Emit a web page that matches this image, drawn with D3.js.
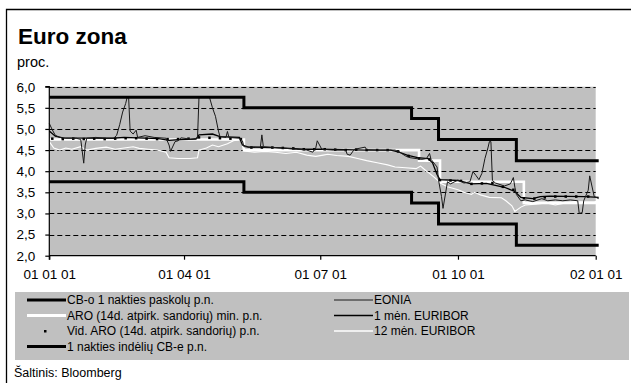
<!DOCTYPE html>
<html>
<head>
<meta charset="utf-8">
<script src="https://cdn.jsdelivr.net/npm/d3@7"></script>
<style>
  html, body { margin: 0; padding: 0; background: #fff; }
  svg { display: block; font-family: "Liberation Sans", Arial, sans-serif; }
</style>
</head>
<body>
<svg id="chart" width="631" height="383"></svg>
<script>
// ECB policy corridor (step values, effective dates)
const corridorDates = ["2001-01-01", "2001-05-11", "2001-08-31", "2001-09-18", "2001-11-09", "2002-01-03"];
const lendingRate   = [5.75, 5.50, 5.25, 4.75, 4.25, 4.25];
const depositRate   = [3.75, 3.50, 3.25, 2.75, 2.25, 2.25];

// Main refinancing operations, minimum bid rate
const aroDates  = ["2001-01-01", "2001-05-11", "2001-09-05", "2001-09-19", "2001-11-14", "2002-01-03"];
const aroMinRate = [4.75, 4.50, 4.25, 3.75, 3.25, 3.25];

// Weekly average allotment rate of main refinancing operations
const aroAvg = [
  ["2001-01-03", 4.77], ["2001-01-10", 4.76], ["2001-01-17", 4.77], ["2001-01-24", 4.76],
  ["2001-01-31", 4.77], ["2001-02-07", 4.76], ["2001-02-14", 4.77], ["2001-02-21", 4.78],
  ["2001-02-28", 4.78], ["2001-03-07", 4.77], ["2001-03-14", 4.76], ["2001-03-21", 4.76],
  ["2001-03-28", 4.76], ["2001-04-04", 4.77], ["2001-04-11", 4.80], ["2001-04-18", 4.79],
  ["2001-04-25", 4.78], ["2001-05-02", 4.77], ["2001-05-09", 4.76], ["2001-05-16", 4.56],
  ["2001-05-23", 4.56], ["2001-05-30", 4.56], ["2001-06-06", 4.55], ["2001-06-13", 4.54],
  ["2001-06-20", 4.52], ["2001-06-27", 4.52], ["2001-07-04", 4.52], ["2001-07-11", 4.51],
  ["2001-07-18", 4.50], ["2001-07-25", 4.51], ["2001-08-01", 4.50], ["2001-08-08", 4.50],
  ["2001-08-15", 4.50], ["2001-08-22", 4.47], ["2001-08-29", 4.36], ["2001-09-05", 4.30],
  ["2001-09-12", 4.28], ["2001-09-19", 3.79], ["2001-09-26", 3.78], ["2001-10-03", 3.77],
  ["2001-10-10", 3.70], ["2001-10-17", 3.71], ["2001-10-24", 3.72], ["2001-10-31", 3.63],
  ["2001-11-07", 3.56], ["2001-11-14", 3.36], ["2001-11-21", 3.35], ["2001-11-28", 3.38],
  ["2001-12-05", 3.40], ["2001-12-12", 3.40], ["2001-12-19", 3.40], ["2001-12-27", 3.40]
];

// EONIA
const eonia = [
  ["2001-01-01", 5.13], ["2001-01-03", 4.98], ["2001-01-05", 4.85], ["2001-01-08", 4.80],
  ["2001-01-12", 4.78], ["2001-01-19", 4.78], ["2001-01-22", 4.75], ["2001-01-24", 4.19],
  ["2001-01-25", 4.62], ["2001-01-26", 4.78], ["2001-02-01", 4.80], ["2001-02-08", 4.78],
  ["2001-02-13", 4.78], ["2001-02-15", 4.85], ["2001-02-17", 5.10], ["2001-02-19", 5.40],
  ["2001-02-21", 5.60], ["2001-02-22", 5.75], ["2001-02-23", 5.75], ["2001-02-24", 4.95],
  ["2001-02-26", 4.88], ["2001-02-28", 4.97], ["2001-03-01", 4.80], ["2001-03-06", 4.84],
  ["2001-03-12", 4.80], ["2001-03-20", 4.78], ["2001-03-22", 4.62], ["2001-03-23", 4.47],
  ["2001-03-26", 4.70], ["2001-03-28", 4.72], ["2001-03-30", 4.79], ["2001-04-05", 4.76],
  ["2001-04-10", 4.78], ["2001-04-11", 5.75], ["2001-04-18", 5.75], ["2001-04-20", 5.50],
  ["2001-04-22", 5.30], ["2001-04-24", 4.95], ["2001-04-25", 4.82], ["2001-04-29", 4.80],
  ["2001-04-30", 4.94], ["2001-05-01", 4.80], ["2001-05-08", 4.78], ["2001-05-10", 4.72],
  ["2001-05-11", 4.58], ["2001-05-15", 4.57], ["2001-05-22", 4.57], ["2001-05-23", 4.86],
  ["2001-05-24", 4.58], ["2001-06-05", 4.55], ["2001-06-15", 4.52], ["2001-06-22", 4.50],
  ["2001-06-26", 4.45], ["2001-06-28", 4.55], ["2001-06-29", 4.72], ["2001-07-02", 4.52],
  ["2001-07-10", 4.50], ["2001-07-18", 4.50], ["2001-07-19", 4.40], ["2001-07-21", 4.38],
  ["2001-07-23", 4.48], ["2001-07-24", 4.52], ["2001-07-31", 4.57], ["2001-08-01", 4.51],
  ["2001-08-10", 4.50], ["2001-08-20", 4.50], ["2001-08-23", 4.45], ["2001-08-27", 4.36],
  ["2001-08-30", 4.32], ["2001-09-03", 4.30], ["2001-09-07", 4.28], ["2001-09-10", 4.30],
  ["2001-09-12", 4.42], ["2001-09-13", 4.28], ["2001-09-17", 4.10], ["2001-09-18", 3.79],
  ["2001-09-20", 3.40], ["2001-09-21", 3.12], ["2001-09-24", 3.75], ["2001-09-26", 3.70],
  ["2001-10-01", 3.79], ["2001-10-05", 3.72], ["2001-10-09", 3.75], ["2001-10-11", 3.99],
  ["2001-10-13", 3.90], ["2001-10-15", 3.80], ["2001-10-17", 3.95], ["2001-10-19", 4.30],
  ["2001-10-21", 4.55], ["2001-10-22", 4.70], ["2001-10-23", 4.70], ["2001-10-24", 3.78],
  ["2001-10-26", 3.72], ["2001-11-01", 3.65], ["2001-11-05", 3.70], ["2001-11-07", 3.85],
  ["2001-11-08", 3.62], ["2001-11-09", 3.45], ["2001-11-12", 3.30], ["2001-11-15", 3.32],
  ["2001-11-20", 3.28], ["2001-11-26", 3.35], ["2001-11-30", 3.30], ["2001-12-05", 3.32],
  ["2001-12-10", 3.30], ["2001-12-15", 3.32], ["2001-12-20", 3.30], ["2001-12-21", 3.00],
  ["2001-12-23", 3.02], ["2001-12-24", 3.30], ["2001-12-27", 3.55], ["2001-12-28", 3.89],
  ["2001-12-31", 3.40], ["2002-01-03", 3.35]
];

// 1-month EURIBOR
const euribor1m = [
  ["2001-01-01", 4.95], ["2001-01-05", 4.83], ["2001-01-10", 4.79], ["2001-02-12", 4.78],
  ["2001-02-20", 4.80], ["2001-03-01", 4.79], ["2001-03-15", 4.77], ["2001-03-22", 4.73],
  ["2001-03-30", 4.75], ["2001-04-09", 4.76], ["2001-04-11", 4.86], ["2001-04-20", 4.88],
  ["2001-04-25", 4.82], ["2001-05-08", 4.80], ["2001-05-10", 4.62], ["2001-05-14", 4.57],
  ["2001-06-01", 4.56], ["2001-06-20", 4.52], ["2001-07-02", 4.52], ["2001-08-01", 4.50],
  ["2001-08-17", 4.50], ["2001-08-22", 4.46], ["2001-08-28", 4.38], ["2001-09-04", 4.32],
  ["2001-09-11", 4.30], ["2001-09-14", 4.20], ["2001-09-17", 3.92], ["2001-09-19", 3.80],
  ["2001-10-01", 3.78], ["2001-10-10", 3.70], ["2001-10-20", 3.71], ["2001-11-01", 3.62],
  ["2001-11-08", 3.52], ["2001-11-12", 3.38], ["2001-11-20", 3.35], ["2001-11-25", 3.40],
  ["2001-12-01", 3.41], ["2001-12-25", 3.40], ["2002-01-03", 3.38]
];

// 12-month EURIBOR
const euribor12m = [
  ["2001-01-01", 4.70], ["2001-01-04", 4.55], ["2001-01-08", 4.50], ["2001-01-12", 4.55],
  ["2001-01-16", 4.52], ["2001-01-22", 4.58], ["2001-01-26", 4.50], ["2001-02-01", 4.54],
  ["2001-02-08", 4.57], ["2001-02-14", 4.52], ["2001-02-20", 4.55], ["2001-02-26", 4.58],
  ["2001-03-02", 4.54], ["2001-03-08", 4.52], ["2001-03-14", 4.50], ["2001-03-20", 4.45],
  ["2001-03-22", 4.32], ["2001-03-28", 4.30], ["2001-04-05", 4.30], ["2001-04-10", 4.32],
  ["2001-04-11", 4.50], ["2001-04-16", 4.55], ["2001-04-20", 4.62], ["2001-04-24", 4.58],
  ["2001-04-30", 4.65], ["2001-05-04", 4.72], ["2001-05-09", 4.75], ["2001-05-11", 4.48],
  ["2001-05-18", 4.45], ["2001-05-25", 4.47], ["2001-06-01", 4.45], ["2001-06-08", 4.42],
  ["2001-06-15", 4.45], ["2001-06-22", 4.38], ["2001-06-28", 4.35], ["2001-07-03", 4.38],
  ["2001-07-06", 4.40], ["2001-07-12", 4.37], ["2001-07-20", 4.35], ["2001-07-26", 4.30],
  ["2001-08-01", 4.25], ["2001-08-08", 4.20], ["2001-08-15", 4.15], ["2001-08-20", 4.10],
  ["2001-08-27", 4.08], ["2001-09-03", 4.06], ["2001-09-06", 4.12], ["2001-09-10", 4.00],
  ["2001-09-12", 3.95], ["2001-09-17", 3.80], ["2001-09-19", 3.72], ["2001-09-24", 3.63],
  ["2001-10-01", 3.56], ["2001-10-05", 3.50], ["2001-10-10", 3.45], ["2001-10-12", 3.50],
  ["2001-10-16", 3.44], ["2001-10-22", 3.38], ["2001-10-30", 3.37], ["2001-11-02", 3.30],
  ["2001-11-06", 3.18], ["2001-11-08", 3.05], ["2001-11-12", 3.15], ["2001-11-15", 3.20],
  ["2001-11-22", 3.22], ["2001-11-29", 3.25], ["2001-12-05", 3.20], ["2001-12-12", 3.25],
  ["2001-12-18", 3.28], ["2001-12-24", 3.27], ["2001-12-31", 3.27], ["2002-01-03", 3.30]
];

const yTicks = [2.0, 2.5, 3.0, 3.5, 4.0, 4.5, 5.0, 5.5, 6.0];
const xTicks = ["2001-01-01", "2001-04-01", "2001-07-01", "2001-10-01", "2002-01-01"];

const legendItems = [
  { label: "CB-o 1 nakties paskolų p.n.", kind: "thick", col: 0, row: 0 },
  { label: "ARO (14d. atpirk. sandorių) min. p.n.", kind: "aro", col: 0, row: 1 },
  { label: "Vid. ARO (14d. atpirk. sandorių) p.n.", kind: "dot", col: 0, row: 2 },
  { label: "1 nakties indėlių CB-e p.n.", kind: "thick", col: 0, row: 3 },
  { label: "EONIA", kind: "eonia", col: 1, row: 0 },
  { label: "1 mėn. EURIBOR", kind: "m1", col: 1, row: 1 },
  { label: "12 mėn. EURIBOR", kind: "m12", col: 1, row: 2 }
];

// ---------------------------------------------------------------
const parse = d3.timeParse("%Y-%m-%d");
const svg = d3.select("#chart");

const plot = { left: 49.3, right: 595.7, top: 86.7, bottom: 255.7 };
const x = d3.scaleTime()
  .domain([parse("2001-01-01"), parse("2002-01-01")])
  .range([plot.left, plot.right]);
const y = d3.scaleLinear().domain([2, 6]).range([plot.bottom, plot.top]);

// outer frame
svg.append("path")
  .attr("d", "M6.5,400 V9.5 H640")
  .attr("fill", "none").attr("stroke", "#000").attr("stroke-width", 1.3);

// titles
svg.append("text").attr("x", 18).attr("y", 44)
  .attr("font-size", 22.5).attr("font-weight", "bold").text("Euro zona");
svg.append("text").attr("x", 17).attr("y", 67)
  .attr("font-size", 14.5).text("proc.");

// plot background
svg.append("rect")
  .attr("x", plot.left).attr("y", plot.top)
  .attr("width", plot.right - plot.left).attr("height", plot.bottom - plot.top)
  .attr("fill", "#c0c0c0");

// dashed gridlines
svg.append("g").selectAll("line")
  .data(yTicks.filter(v => v > 2))
  .join("line")
  .attr("x1", plot.left).attr("x2", plot.right)
  .attr("y1", d => Math.round(y(d)) + 0.5).attr("y2", d => Math.round(y(d)) + 0.5)
  .attr("stroke", "#000").attr("stroke-width", 1)
  .attr("stroke-dasharray", "5,3");

const stepLine = d3.line()
  .x(d => x(d[0])).y(d => y(d[1]))
  .curve(d3.curveStepAfter);
const plainLine = d3.line()
  .x(d => x(d[0])).y(d => y(d[1]));

const zip = (dates, vals) => dates.map((d, i) => [parse(d), vals[i]]);
const pairs = arr => arr.map(d => [parse(d[0]), d[1]]);

// ARO minimum bid rate (white, thick)
svg.append("path").datum(zip(aroDates, aroMinRate))
  .attr("d", stepLine).attr("fill", "none")
  .attr("stroke", "#fff").attr("stroke-width", 2.6);

// 12m EURIBOR (white, thin)
svg.append("path").datum(pairs(euribor12m))
  .attr("d", plainLine).attr("fill", "none")
  .attr("stroke", "#fff").attr("stroke-width", 1.1);

// weekly average ARO
svg.append("g").selectAll("rect")
  .data(pairs(aroAvg))
  .join("rect")
  .attr("x", d => x(d[0]) - 1.25).attr("y", d => y(d[1]) - 1.25)
  .attr("width", 2.5).attr("height", 2.5).attr("fill", "#000");

// 1m EURIBOR (black)
svg.append("path").datum(pairs(euribor1m))
  .attr("d", plainLine).attr("fill", "none")
  .attr("stroke", "#000").attr("stroke-width", 1.3);

// EONIA
svg.append("path").datum(pairs(eonia))
  .attr("d", plainLine).attr("fill", "none")
  .attr("stroke", "#1a1a1a").attr("stroke-width", 1);

// ECB corridor
[lendingRate, depositRate].forEach(vals => {
  svg.append("path").datum(zip(corridorDates, vals))
    .attr("d", stepLine).attr("fill", "none")
    .attr("stroke", "#000").attr("stroke-width", 3);
});

// axes
const yAxis = d3.axisLeft(y)
  .tickValues(yTicks)
  .tickSize(4)
  .tickPadding(10)
  .tickFormat(d => d3.format(".1f")(d).replace(".", ","));
const gy = svg.append("g").attr("transform", `translate(${plot.left},0)`).call(yAxis);
gy.select(".domain").attr("d", `M-4,${plot.top}H0V${plot.bottom + 4}`);

const xAxis = d3.axisBottom(x)
  .tickValues(xTicks.map(parse))
  .tickSize(4)
  .tickPadding(10)
  .tickFormat(d3.timeFormat("%y %m %d"));
const gx = svg.append("g").attr("transform", `translate(0,${plot.bottom})`).call(xAxis);
gx.select(".domain").attr("d", `M${plot.left},0H${plot.right}`);

[gx, gy].forEach(g => {
  g.selectAll("line, path").attr("stroke", "#000").attr("stroke-width", 1.2);
  g.selectAll("text").attr("fill", "#000").attr("font-size", 13.5)
    .attr("font-family", "'Liberation Sans', Arial, sans-serif");
});

// legend
const legend = { x: 15, y: 292, w: 614, h: 68 };
svg.append("rect")
  .attr("x", legend.x).attr("y", legend.y)
  .attr("width", legend.w).attr("height", legend.h)
  .attr("fill", "#c0c0c0");

const colX = [27, 334];
const rowY = [300, 315.5, 331, 346.5];
const lg = svg.append("g");
legendItems.forEach(it => {
  const x0 = colX[it.col], yy = rowY[it.row];
  if (it.kind === "dot") {
    lg.append("rect").attr("x", x0 + 17).attr("y", yy - 1)
      .attr("width", 2.5).attr("height", 2.5).attr("fill", "#000");
  } else {
    const style = {
      thick: ["#000", 3], aro: ["#fff", 3], eonia: ["#1a1a1a", 1.2],
      m1: ["#000", 1.6], m12: ["#fff", 1.6]
    }[it.kind];
    lg.append("line")
      .attr("x1", x0).attr("x2", x0 + 39)
      .attr("y1", yy).attr("y2", yy)
      .attr("stroke", style[0]).attr("stroke-width", style[1]);
  }
  lg.append("text").attr("x", x0 + 40).attr("y", yy)
    .attr("dy", "0.35em").attr("font-size", 12).text(it.label);
});

svg.append("text").attr("x", 14).attr("y", 373).attr("dy", "0.35em")
  .attr("font-size", 12.5).text("Šaltinis: Bloomberg");
</script>
</body>
</html>
